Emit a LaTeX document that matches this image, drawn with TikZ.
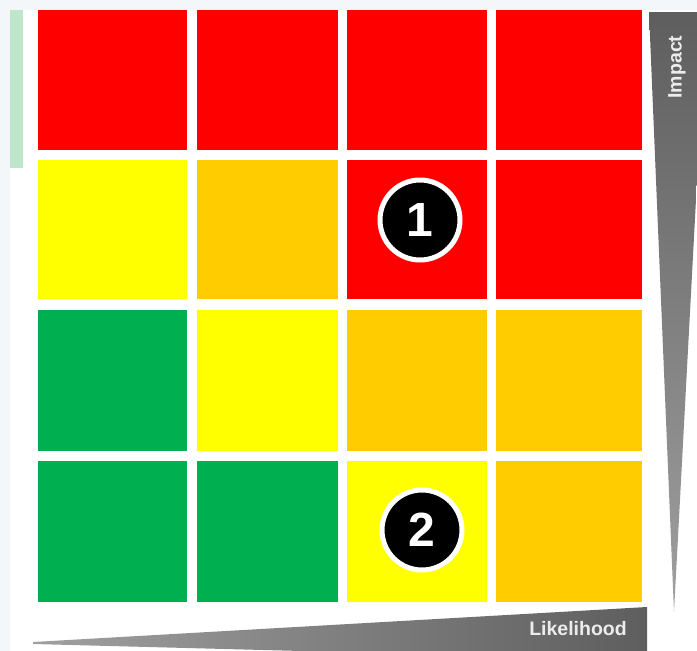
\documentclass[tikz,border=0pt]{standalone}
\usepackage{fontspec}
\setmainfont{Liberation Sans}
\usetikzlibrary{shadows}
\definecolor{bgpale}{HTML}{F4F7FA}
\definecolor{rskred}{HTML}{FF0000}
\definecolor{rskyel}{HTML}{FFFF00}
\definecolor{rskorg}{HTML}{FFCC00}
\definecolor{rskgrn}{HTML}{00B050}
\definecolor{barlight}{HTML}{BEE6CA}
\definecolor{wedgedark}{HTML}{5E5E5E}
\definecolor{wedgelight}{HTML}{A0A0A0}
\tikzset{
  cell/.style={inner sep=0pt, outer sep=0pt},
  badge/.style={circle, fill=black, draw=white, line width=5pt, minimum size=80pt, inner sep=0pt,
    text=white, font=\fontsize{48}{48}\selectfont\bfseries,
    drop shadow={shadow xshift=1pt, shadow yshift=-2pt, opacity=0.35, fill=black}},
  axislabel/.style={text=white!85!gray, font=\fontsize{19.5}{19.5}\selectfont\bfseries, inner sep=0pt}
}
\begin{document}
\begin{tikzpicture}[x=1pt,y=-1pt]
\useasboundingbox (0,0) rectangle (697,651);
\fill[bgpale] (0,0) rectangle (697,651);
\fill[white] (10,10) rectangle (697,651);
\fill[barlight] (10,10) rectangle (23,168);
% grid cells
\def\xa{38}\def\xb{187}
\def\xc{197}\def\xd{338}
\def\xe{347}\def\xf{487}
\def\xg{496}\def\xh{642}
\def\ya{10}\def\yb{150}
\def\yc{160}\def\yd{299}
\def\ye{310}\def\yf{451}
\def\yg{461}\def\yh{602}
% row 1
\fill[rskred] (\xa,\ya) rectangle (\xb,\yb) node[cell] (c11) {};
\fill[rskred] (\xc,\ya) rectangle (\xd,\yb) node[cell] (c12) {};
\fill[rskred] (\xe,\ya) rectangle (\xf,\yb) node[cell] (c13) {};
\fill[rskred] (\xg,\ya) rectangle (\xh,\yb) node[cell] (c14) {};
% row 2
\fill[rskyel] (\xa,\yc) rectangle (\xb,\yd) node[cell] (c21) {};
\fill[rskorg] (\xc,\yc) rectangle (\xd,\yd) node[cell] (c22) {};
\fill[rskred] (\xe,\yc) rectangle (\xf,\yd) node[cell] (c23) {};
\fill[rskred] (\xg,\yc) rectangle (\xh,\yd) node[cell] (c24) {};
% row 3
\fill[rskgrn] (\xa,\ye) rectangle (\xb,\yf) node[cell] (c31) {};
\fill[rskyel] (\xc,\ye) rectangle (\xd,\yf) node[cell] (c32) {};
\fill[rskorg] (\xe,\ye) rectangle (\xf,\yf) node[cell] (c33) {};
\fill[rskorg] (\xg,\ye) rectangle (\xh,\yf) node[cell] (c34) {};
% row 4
\fill[rskgrn] (\xa,\yg) rectangle (\xb,\yh) node[cell] (c41) {};
\fill[rskgrn] (\xc,\yg) rectangle (\xd,\yh) node[cell] (c42) {};
\fill[rskyel] (\xe,\yg) rectangle (\xf,\yh) node[cell] (c43) {};
\fill[rskorg] (\xg,\yg) rectangle (\xh,\yh) node[cell] (c44) {};
% impact wedge
\shade[top color=wedgedark, bottom color=wedgelight] (649,12) -- (706,12) -- (674,612) -- cycle;
\node[axislabel, rotate=90] (impact) at (677,67) {Impact};
% likelihood wedge
\shade[left color=wedgelight, right color=wedgedark] (33,642) -- (647,607) -- (647,660) -- (33,644) -- cycle;
\node[axislabel, anchor=east] (likelihood) at (627,629) {Likelihood};
% badges
\node[badge] (b1) at (420,220) {1};
\node[badge] (b2) at (422,530) {2};
\end{tikzpicture}
\end{document}
